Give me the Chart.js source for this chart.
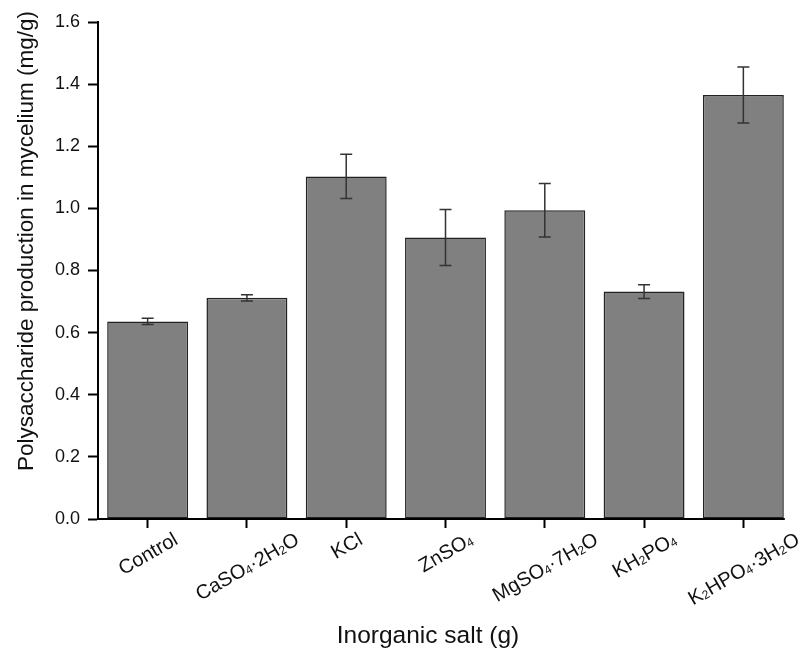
<!DOCTYPE html>
<html>
<head>
<meta charset="utf-8">
<script src="https://cdn.jsdelivr.net/npm/chart.js@4.4.0/dist/chart.umd.min.js"></script>
<style>
    html, body { margin: 0; padding: 0; background: #fff; }
    #wrap { width: 806px; height: 648px; }
</style>
</head>
<body>
<div id="wrap"><canvas id="salt_chart"></canvas></div>
<script>
// data
const saltLabels = ['Control', 'CaSO₄·2H₂O', 'KCl', 'ZnSO₄', 'MgSO₄·7H₂O', 'KH₂PO₄', 'K₂HPO₄·3H₂O'];
const productionMeans = [0.636, 0.712, 1.103, 0.906, 0.994, 0.732, 1.365];
const productionErrors = [0.010, 0.010, 0.071, 0.090, 0.086, 0.022, 0.090];
const yTickValues = [0.0, 0.2, 0.4, 0.6, 0.8, 1.0, 1.2, 1.4, 1.6];
const xTitle = 'Inorganic salt (g)';
const yTitle = 'Polysaccharide production in mycelium (mg/g)';

const FONT = "'Liberation Sans', Arial, sans-serif";
const SUBS = { '₀': '0', '₁': '1', '₂': '2', '₃': '3', '₄': '4', '₅': '5', '₆': '6', '₇': '7', '₈': '8', '₉': '9' };

// error bars on top of the bars
const errorBarPlugin = {
    id: 'errorBars',
    afterDatasetsDraw(chart) {
        const ctx = chart.ctx;
        const yScale = chart.scales.y;
        const meta = chart.getDatasetMeta(0);
        ctx.save();
        ctx.strokeStyle = '#333';
        ctx.lineWidth = 1.5;
        meta.data.forEach((bar, i) => {
            const top = yScale.getPixelForValue(productionMeans[i] + productionErrors[i]);
            const bottom = yScale.getPixelForValue(productionMeans[i] - productionErrors[i]);
            ctx.beginPath();
            ctx.moveTo(bar.x, top);
            ctx.lineTo(bar.x, bottom);
            ctx.moveTo(bar.x - 6, top);
            ctx.lineTo(bar.x + 6, top);
            ctx.moveTo(bar.x - 6, bottom);
            ctx.lineTo(bar.x + 6, bottom);
            ctx.stroke();
        });
        ctx.restore();
    }
};

// split a label into normal / subscript pieces
function labelPieces(text, size) {
    return [...text].map(ch => SUBS[ch]
        ? { t: SUBS[ch], font: `${Math.round(size * 0.62)}px ${FONT}`, dy: 1 }
        : { t: ch, font: `${size}px ${FONT}`, dy: 0 });
}

// rotated category labels, axis titles and the x axis line
const xLabelPlugin = {
    id: 'xLabels',
    afterDraw(chart) {
        const ctx = chart.ctx;
        const xScale = chart.scales.x;
        const area = chart.chartArea;
        const meta = chart.getDatasetMeta(0);
        const size = 20;
        const angle = -Math.PI / 6;

        ctx.save();
        // axis line ends at the last bar
        const last = meta.data[meta.data.length - 1];
        ctx.strokeStyle = '#000';
        ctx.lineWidth = 2;
        ctx.beginPath();
        ctx.moveTo(area.left - 1, xScale.top);
        ctx.lineTo(last.x + last.width / 2 + 1, xScale.top);
        ctx.stroke();

        ctx.fillStyle = '#111';
        ctx.textBaseline = 'alphabetic';
        saltLabels.forEach((label, i) => {
            const pieces = labelPieces(label, size);
            let total = 0;
            pieces.forEach(p => { ctx.font = p.font; p.w = ctx.measureText(p.t).width; total += p.w; });
            const cx = xScale.getPixelForTick(i);
            const cy = xScale.top + 18 + (total / 2) * Math.sin(-angle);
            ctx.save();
            ctx.translate(cx, cy);
            ctx.rotate(angle);
            let x = -total / 2;
            pieces.forEach(p => {
                ctx.font = p.font;
                ctx.fillText(p.t, x, size * 0.36 + p.dy);
                x += p.w;
            });
            ctx.restore();
        });

        // axis titles
        ctx.textAlign = 'center';
        ctx.font = `24.5px ${FONT}`;
        ctx.fillText(xTitle, 428, 643);

        ctx.save();
        ctx.translate(33, 241);
        ctx.rotate(-Math.PI / 2);
        ctx.font = `22.5px ${FONT}`;
        ctx.fillText(yTitle, 0, 0);
        ctx.restore();

        ctx.restore();
    }
};

new Chart(document.getElementById('salt_chart'), {
    type: 'bar',
    data: {
        labels: saltLabels,
        datasets: [{
            data: productionMeans,
            backgroundColor: '#808080',
            borderColor: '#222',
            borderWidth: 1.5,
            borderSkipped: false,
            barPercentage: 0.815,
            categoryPercentage: 1.0
        }]
    },
    options: {
        responsive: true,
        maintainAspectRatio: false,
        animation: false,
        layout: { padding: { top: 22, right: 13, left: 0, bottom: 0 } },
        plugins: {
            legend: { display: false },
            tooltip: { enabled: false }
        },
        scales: {
            x: {
                offset: true,
                afterFit: scale => { scale.height = 129; },
                border: { display: false },
                grid: {
                    offset: false,
                    drawOnChartArea: false,
                    drawTicks: true,
                    tickLength: 9,
                    tickWidth: 2,
                    tickColor: '#000'
                },
                ticks: { display: false },
                title: { display: false }
            },
            y: {
                min: 0,
                max: 1.6,
                afterFit: scale => { scale.width = 98; },
                afterBuildTicks: scale => { scale.ticks = yTickValues.map(v => ({ value: v })); },
                border: { display: true, color: '#000', width: 2 },
                grid: {
                    drawOnChartArea: false,
                    drawTicks: true,
                    tickLength: 10,
                    tickWidth: 2,
                    tickColor: '#000'
                },
                ticks: {
                    color: '#111',
                    padding: 8,
                    font: { family: FONT, size: 18 },
                    callback: v => Number(v).toFixed(1)
                },
                title: { display: false }
            }
        }
    },
    plugins: [errorBarPlugin, xLabelPlugin]
});
</script>
</body>
</html>
